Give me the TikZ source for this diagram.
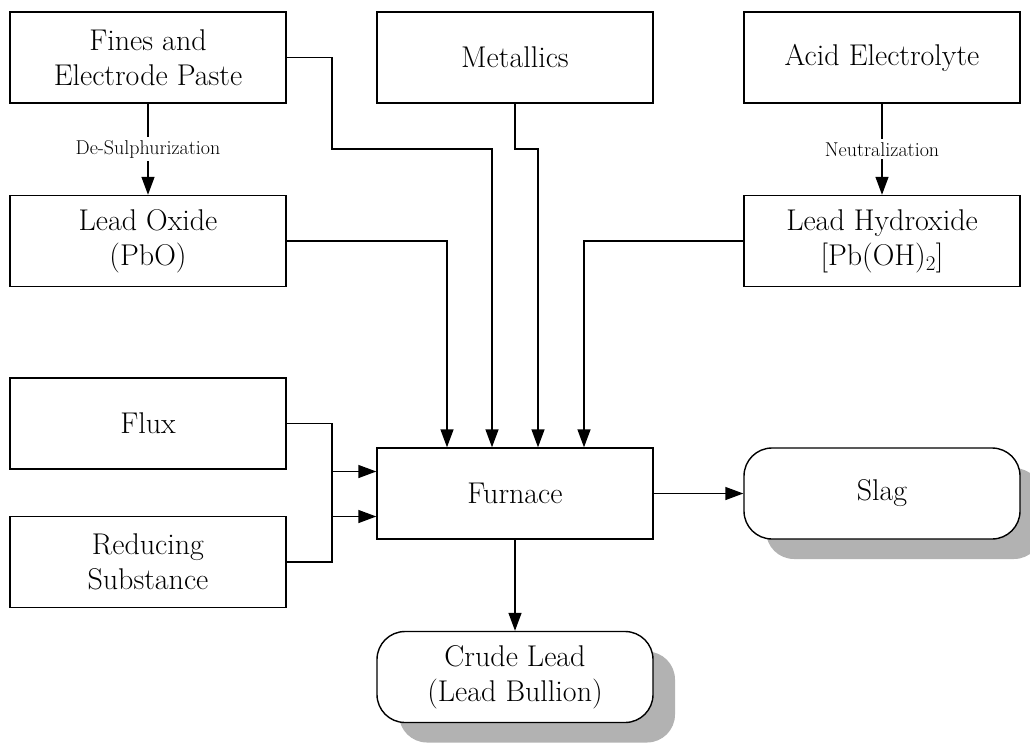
\documentclass[tikz,border=0pt]{standalone}
\usetikzlibrary{arrows.meta,shadows}

\tikzset{
  box/.style={draw, line width=1.4pt, minimum width=276pt, minimum height=91pt,
    inner sep=0pt, align=center, font=\fontsize{30}{35}\selectfont},
  outbox/.style={box, rounded corners=28pt, fill=white,
    drop shadow={shadow xshift=22pt, shadow yshift=-20pt, fill=black!30, opacity=1}},
  arr/.style={line width=1.4pt, -{Triangle[length=18pt,width=13pt]}},
  lbl/.style={fill=white, inner sep=3pt, font=\fontsize{20}{22}\selectfont}
}

\begin{document}
\begin{tikzpicture}[x=1pt, y=-1pt]
  \useasboundingbox (0,0) rectangle (1030,742);

  % sources
  \node[box] (fines) at (148,57.5) {Fines and\\Electrode Paste};
  \node[box] (metal) at (515,57.5) {Metallics};
  \node[box] (acid)  at (882,57.5) {Acid Electrolyte};
  \node[box] (pbo)   at (148,241)  {Lead Oxide\\(PbO)};
  \node[box] (pboh)  at (882,241)  {Lead Hydroxide\\{[}Pb(OH)\textsubscript{2}{]}};
  \node[box] (flux)  at (148,423.5) {Flux};
  \node[box] (red)   at (148,562)  {Reducing\\Substance};

  % furnace and products
  \node[box] (furn)  at (515,493.5) {Furnace};
  \node[outbox] (slag)  at (882,493.5) {Slag};
  \node[outbox] (crude) at (515,677) {Crude Lead\\(Lead Bullion)};

  % pre-treatment steps
  \draw[arr] (fines.south) -- node[lbl] {De-Sulphurization} (pbo.north);
  \draw[arr] (acid.south) -- node[lbl] {Neutralization} (pboh.north);

  % feeds entering the furnace from above
  \draw[arr] (pbo.east) -| ([xshift=-68pt]furn.north);
  \draw[arr] (fines.east) -| (332,149) -| ([xshift=-23pt]furn.north);
  \coordinate (mbend) at (538,149);
  \draw[arr] (metal.south) |- (mbend) -- (mbend |- furn.north);
  \draw[arr] (pboh.west) -| ([xshift=69pt]furn.north);

  % feeds entering the furnace from the left
  \coordinate (fin1) at ([yshift=-23pt]furn.west);
  \coordinate (fin2) at ([yshift=22pt]furn.west);
  \draw[arr] (flux.east) -| (fin1 -| 332,0) -- (fin1);
  \draw[arr] (red.east) -| (fin2 -| 332,0) -- (fin2);

  % products
  \draw[arr] (furn.east) -- (slag.west);
  \draw[arr] (furn.south) -- (crude.north);
\end{tikzpicture}
\end{document}
